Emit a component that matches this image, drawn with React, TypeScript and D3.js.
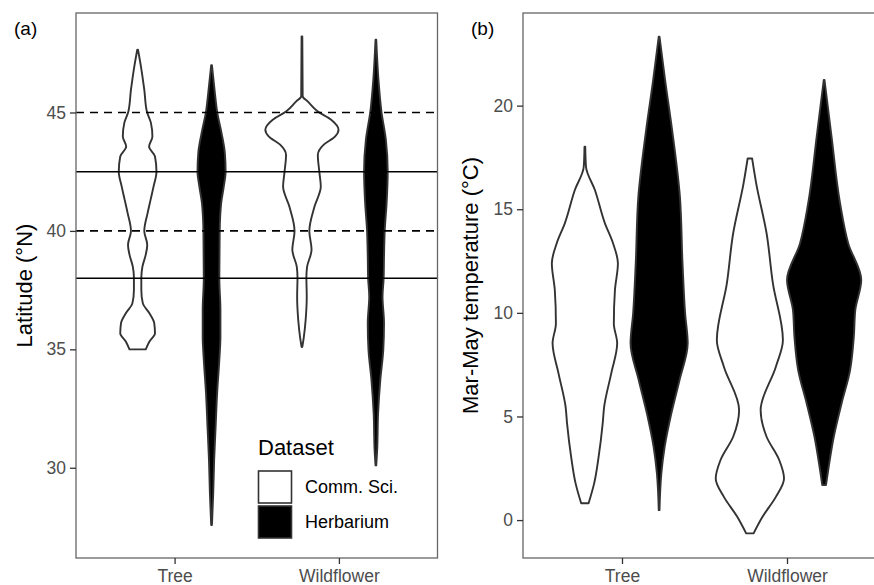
import React, { useEffect, useRef } from 'react';
import * as d3 from 'd3';

// categories and groups
const categories = ['Tree', 'Wildflower'];
const datasets = ['Comm. Sci.', 'Herbarium'];

// violin outlines: [value, relative half-width]
// (a) latitude
const latTreeComm = [
	[47.65, 0.01], [46.94, 0.09], [45.96, 0.18], [45.04, 0.25], [44.56, 0.36],
	[43.99, 0.4], [43.56, 0.31], [43.14, 0.47], [42.5, 0.51], [41.87, 0.43],
	[41.31, 0.35], [40.75, 0.27], [40.0, 0.18], [39.41, 0.26], [39.0, 0.22],
	[38.49, 0.13], [38.03, 0.1], [37.51, 0.1], [36.95, 0.14], [36.52, 0.32],
	[36.1, 0.45], [35.68, 0.47], [35.33, 0.32], [35.0, 0.22],
];
const latTreeHerb = [
	[47.0, 0.01], [45.82, 0.09], [45.04, 0.15], [44.13, 0.27], [43.28, 0.36],
	[42.5, 0.38], [41.87, 0.33], [41.17, 0.26], [39.97, 0.22], [38.0, 0.21],
	[36.66, 0.24], [35.54, 0.24], [34.55, 0.21], [33.14, 0.15], [31.73, 0.11],
	[30.33, 0.07], [28.92, 0.045], [27.58, 0.01],
];
const latWildComm = [
	[48.21, 0.01], [45.68, 0.02], [45.46, 0.16], [45.04, 0.43], [44.69, 0.79],
	[44.27, 0.99], [43.99, 0.9], [43.64, 0.59], [43.21, 0.43], [42.5, 0.47],
	[41.87, 0.51], [41.03, 0.34], [40.0, 0.2], [39.2, 0.26], [38.49, 0.14],
	[38.03, 0.12], [37.23, 0.13], [36.24, 0.1], [35.5, 0.05], [35.1, 0.01],
];
const latWildHerb = [
	[48.07, 0.01], [46.38, 0.07], [45.04, 0.15], [43.85, 0.27], [42.5, 0.32],
	[41.17, 0.29], [40.04, 0.24], [38.92, 0.22], [38.0, 0.21], [37.23, 0.18],
	[36.1, 0.22], [34.97, 0.2], [33.71, 0.12], [32.3, 0.06], [30.75, 0.035],
	[30.1, 0.01],
];

// (b) Mar-May temperature
const tempTreeComm = [
	[18.02, 0.01], [17.05, 0.03], [15.93, 0.27], [14.32, 0.54], [13.35, 0.76],
	[12.39, 0.89], [11.1, 0.81], [9.49, 0.78], [8.53, 0.87], [7.08, 0.71],
	[5.47, 0.52], [4.67, 0.48], [3.05, 0.37], [1.77, 0.25], [0.81, 0.1],
];
const tempTreeHerb = [
	[23.33, 0.01], [21.24, 0.16], [18.82, 0.35], [15.6, 0.56], [12.39, 0.63],
	[9.98, 0.7], [8.53, 0.77], [6.76, 0.55], [5.15, 0.33], [3.54, 0.15],
	[2.25, 0.06], [0.48, 0.01],
];
const tempWildComm = [
	[17.45, 0.06], [16.25, 0.17], [13.84, 0.45], [11.42, 0.62], [8.69, 0.89],
	[7.4, 0.7], [5.31, 0.29], [4.02, 0.45], [2.9, 0.79], [2.01, 0.92],
	[1.12, 0.7], [0.16, 0.34], [-0.64, 0.1],
];
const tempWildHerb = [
	[21.24, 0.01], [18.5, 0.2], [15.28, 0.43], [13.35, 0.65], [11.58, 1.0],
	[10.14, 0.84], [8.85, 0.8], [7.24, 0.7], [5.63, 0.47], [4.02, 0.26],
	[2.41, 0.11], [1.69, 0.05],
];

// axis ticks and reference lines
const latTicks = [30, 35, 40, 45];
const tempTicks = [0, 5, 10, 15, 20];
const latSolidLines = [42.5, 38];
const latDashedLines = [45, 40];

const FONT = "'Liberation Sans', Arial, Helvetica, sans-serif";

export default function App() {
	const ref = useRef(null);

	useEffect(() => {
		const svg = d3.select(ref.current);
		svg.selectAll('*').remove();

		const top = 13;
		const bottom = 558;

		const panels = [
			{
				tag: '(a)',
				tagX: 14,
				left: 76,
				right: 437.5,
				domain: [26.19, 49.2],
				ticks: latTicks,
				title: 'Latitude (°N)',
				titleX: 32,
				violins: [
					[latTreeComm, latTreeHerb],
					[latWildComm, latWildHerb],
				],
				solid: latSolidLines,
				dashed: latDashedLines,
				legend: true,
			},
			{
				tag: '(b)',
				tagX: 471,
				left: 523,
				right: 886,
				domain: [-1.83, 24.47],
				ticks: tempTicks,
				title: 'Mar-May temperature (°C)',
				titleX: 478,
				violins: [
					[tempTreeComm, tempTreeHerb],
					[tempWildComm, tempWildHerb],
				],
				solid: [],
				dashed: [],
				legend: false,
			},
		];

		panels.forEach((p) => {
			const x = d3
				.scaleLinear()
				.domain([0.4, categories.length + 0.6])
				.range([p.left, p.right]);
			const y = d3.scaleLinear().domain(p.domain).range([bottom, top]);
			const unit = x(2) - x(1);
			const w = d3.scaleLinear().domain([0, 1]).range([0, 0.225 * unit]);

			const g = svg.append('g');

			// violins
			categories.forEach((c, ci) => {
				p.violins[ci].forEach((pts, di) => {
					const cx = x(ci + 1) + (di === 0 ? -0.225 : 0.225) * unit;
					const area = d3
						.area()
						.y((d) => y(d[0]))
						.x0((d) => cx - w(d[1]))
						.x1((d) => cx + w(d[1]))
						.curve(d3.curveMonotoneY);
					g.append('path')
						.attr('d', area(pts))
						.attr('fill', di === 0 ? '#ffffff' : '#000000')
						.attr('stroke', '#333333')
						.attr('stroke-width', 1.9)
						.attr('stroke-linejoin', 'round');
				});
			});

			// reference lines
			p.solid.forEach((v) => {
				g.append('line')
					.attr('x1', p.left)
					.attr('x2', p.right)
					.attr('y1', y(v))
					.attr('y2', y(v))
					.attr('stroke', '#000')
					.attr('stroke-width', 1.6);
			});
			p.dashed.forEach((v) => {
				g.append('line')
					.attr('x1', p.left)
					.attr('x2', p.right)
					.attr('y1', y(v))
					.attr('y2', y(v))
					.attr('stroke', '#000')
					.attr('stroke-width', 1.6)
					.attr('stroke-dasharray', '8 6');
			});

			// panel border
			g.append('rect')
				.attr('x', p.left)
				.attr('y', top)
				.attr('width', p.right - p.left)
				.attr('height', bottom - top)
				.attr('fill', 'none')
				.attr('stroke', '#666')
				.attr('stroke-width', 1.3);

			// y axis
			const yAxis = g
				.append('g')
				.attr('transform', `translate(${p.left},0)`)
				.call(d3.axisLeft(y).tickValues(p.ticks).tickSize(6).tickSizeOuter(0).tickPadding(4));
			yAxis.select('.domain').remove();
			yAxis.selectAll('.tick line').attr('stroke', '#333').attr('stroke-width', 1.3);
			yAxis
				.selectAll('text')
				.attr('fill', '#4d4d4d')
				.style('font-family', FONT)
				.style('font-size', '17.5px');

			// x axis
			const xAxis = g
				.append('g')
				.attr('transform', `translate(0,${bottom})`)
				.call(
					d3
						.axisBottom(x)
						.tickValues(categories.map((c, i) => i + 1))
						.tickFormat((d) => categories[d - 1])
						.tickSize(6)
						.tickSizeOuter(0)
						.tickPadding(6)
				);
			xAxis.select('.domain').remove();
			xAxis.selectAll('.tick line').attr('stroke', '#333').attr('stroke-width', 1.3);
			xAxis
				.selectAll('text')
				.attr('fill', '#4d4d4d')
				.style('font-family', FONT)
				.style('font-size', '17.5px');

			// axis title
			g.append('text')
				.attr('transform', `translate(${p.titleX},${(top + bottom) / 2}) rotate(-90)`)
				.attr('text-anchor', 'middle')
				.style('font-family', FONT)
				.style('font-size', '22px')
				.attr('fill', '#000')
				.text(p.title);

			// panel tag
			g.append('text')
				.attr('x', p.tagX)
				.attr('y', 35)
				.style('font-family', FONT)
				.style('font-size', '19px')
				.attr('fill', '#000')
				.text(p.tag);

			// legend
			if (p.legend) {
				const lg = g.append('g').attr('transform', 'translate(258,0)');
				lg.append('text')
					.attr('x', 0)
					.attr('y', 455)
					.style('font-family', FONT)
					.style('font-size', '22px')
					.attr('fill', '#000')
					.text('Dataset');
				datasets.forEach((d, i) => {
					const ky = 471 + i * 35;
					lg.append('rect')
						.attr('x', 0.5)
						.attr('y', ky)
						.attr('width', 33)
						.attr('height', 32)
						.attr('fill', i === 0 ? '#fff' : '#000')
						.attr('stroke', '#333')
						.attr('stroke-width', 1.6);
					lg.append('text')
						.attr('x', 47)
						.attr('y', ky + 17)
						.attr('dominant-baseline', 'middle')
						.style('font-family', FONT)
						.style('font-size', '18px')
						.attr('fill', '#000')
						.text(d);
				});
			}
		});
	}, []);

	return (
		<svg
			ref={ref}
			width={874}
			height={585}
			style={{ position: 'absolute', left: 0, top: 0, background: '#fff' }}
		/>
	);
}
